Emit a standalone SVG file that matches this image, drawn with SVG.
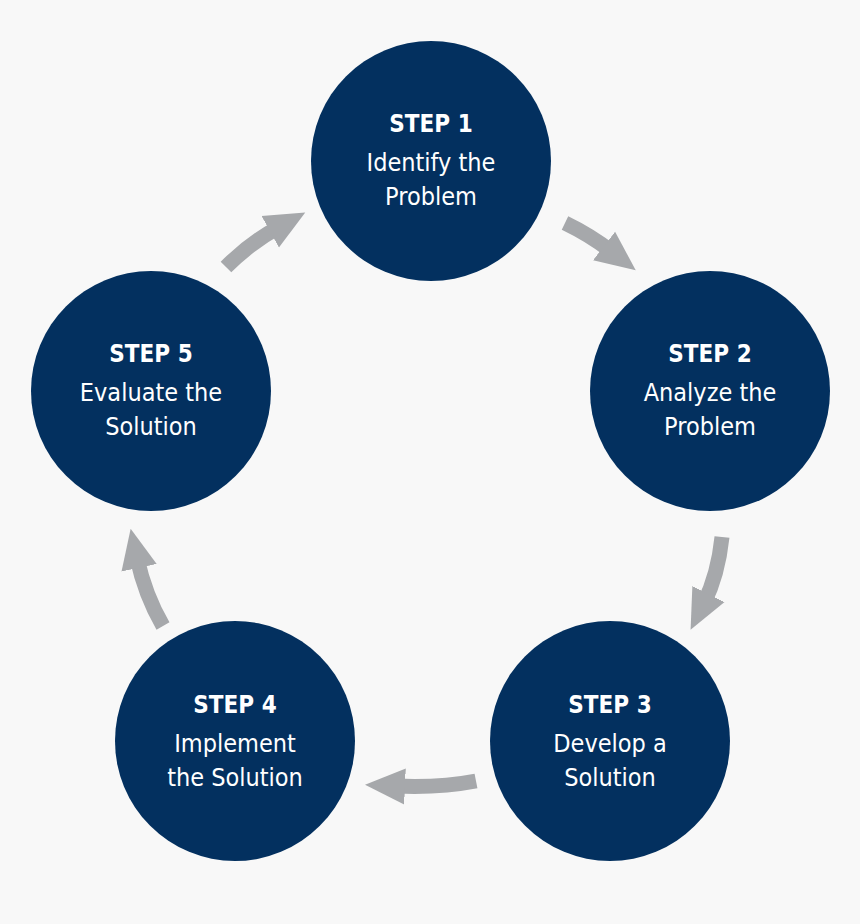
<svg xmlns="http://www.w3.org/2000/svg" width="860" height="924" viewBox="0 0 860 924">
<style>
.n{fill:#03305f}
.t{font-family:"DejaVu Sans Condensed","Liberation Sans",sans-serif;fill:#fff;text-anchor:middle}
.h{font-size:24px;font-weight:bold}
.b{font-size:25px}
.c{fill:none;stroke:#a6a8ab;stroke-width:15;marker-end:url(#a)}
</style>
<defs><marker id="a" markerUnits="userSpaceOnUse" markerWidth="44" markerHeight="44" refX="10" refY="22" orient="auto" viewBox="0 0 44 44"><path d="M0,4 L40,22 L0,40 Z" fill="#a6a8ab"/></marker></defs>
<rect width="860" height="924" fill="#f8f8f8"/>
<g id="connectors">
<path class="c" d="M565,223 Q590,235 612,252"/>
<path class="c" d="M722,537 Q718,575 704,603"/>
<path class="c" d="M476,781 Q440,788 395,786"/>
<path class="c" d="M163,626 Q145,595 137,558"/>
<path class="c" d="M226,267 Q250,243 279,227"/>
</g>
<g id="step1"><circle class="n" cx="431" cy="161" r="120"/><text class="t h" x="431" y="132">STEP 1</text><text class="t b" x="431" y="171">Identify the</text><text class="t b" x="431" y="205">Problem</text></g>
<g id="step2"><circle class="n" cx="710" cy="391" r="120"/><text class="t h" x="710" y="362">STEP 2</text><text class="t b" x="710" y="401">Analyze the</text><text class="t b" x="710" y="435">Problem</text></g>
<g id="step3"><circle class="n" cx="610" cy="741" r="120"/><text class="t h" x="610" y="713">STEP 3</text><text class="t b" x="610" y="752">Develop a</text><text class="t b" x="610" y="786">Solution</text></g>
<g id="step4"><circle class="n" cx="235" cy="741" r="120"/><text class="t h" x="235" y="713">STEP 4</text><text class="t b" x="235" y="752">Implement</text><text class="t b" x="235" y="786">the Solution</text></g>
<g id="step5"><circle class="n" cx="151" cy="391" r="120"/><text class="t h" x="151" y="362">STEP 5</text><text class="t b" x="151" y="401">Evaluate the</text><text class="t b" x="151" y="435">Solution</text></g>
</svg>
